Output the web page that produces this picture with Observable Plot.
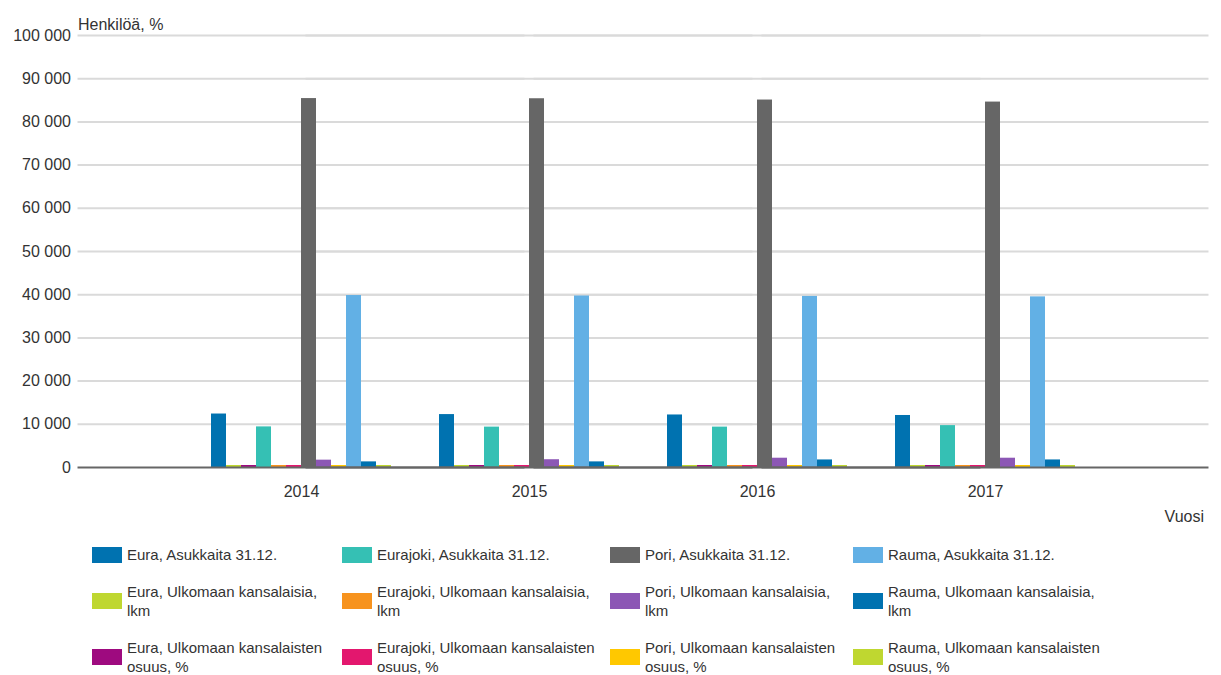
<!DOCTYPE html>
<html>
<head>
<meta charset="utf-8">
<script src="https://cdn.jsdelivr.net/npm/d3@7"></script>
<script src="https://cdn.jsdelivr.net/npm/@observablehq/plot@0.6"></script>
<style>
  html, body { margin: 0; padding: 0; background: #fff; }
  #wrap { position: relative; width: 1221px; height: 675px; font-family: "Liberation Sans", Arial, sans-serif; color: #333; }
  .item { position: absolute; display: flex; align-items: center; font-size: 15px; line-height: 19px; color: #333; white-space: nowrap; }
  .sw { width: 30px; height: 16px; margin-right: 5px; flex: none; }
</style>
</head>
<body>
<div id="wrap"></div>
<script>
const years = ["2014", "2015", "2016", "2017"];
const municipalities = ["Eura", "Eurajoki", "Pori", "Rauma"];
const measures = ["Asukkaita 31.12.", "Ulkomaan kansalaisia, lkm", "Ulkomaan kansalaisten osuus, %"];
const yTicks = [0, 10000, 20000, 30000, 40000, 50000, 60000, 70000, 80000, 90000, 100000];

// values per year 2014..2017
const euraAsukkaita      = [12380, 12250, 12160, 12040];
const euraUlkLkm         = [260, 250, 270, 280];
const euraUlkOsuus       = [2.1, 2.0, 2.2, 2.3];
const eurajokiAsukkaita  = [9400, 9350, 9350, 9700];
const eurajokiUlkLkm     = [180, 190, 200, 210];
const eurajokiUlkOsuus   = [1.9, 2.0, 2.1, 2.2];
const poriAsukkaita      = [85400, 85360, 85060, 84590];
const poriUlkLkm         = [1700, 1800, 2150, 2150];
const poriUlkOsuus       = [2.0, 2.1, 2.5, 2.5];
const raumaAsukkaita     = [39810, 39700, 39600, 39500];
const raumaUlkLkm        = [1300, 1300, 1750, 1750];
const raumaUlkOsuus      = [3.3, 3.3, 4.4, 4.4];

const seriesValues = [
  euraAsukkaita, euraUlkLkm, euraUlkOsuus,
  eurajokiAsukkaita, eurajokiUlkLkm, eurajokiUlkOsuus,
  poriAsukkaita, poriUlkLkm, poriUlkOsuus,
  raumaAsukkaita, raumaUlkLkm, raumaUlkOsuus
];
const colors = [
  "#0072b0", "#bfd730", "#9e0a7f",
  "#35c0b4", "#f7931e", "#e3176e",
  "#666666", "#8c57b5", "#ffc800",
  "#62b0e5", "#0072b0", "#bfd730"
];

const series = [];
municipalities.forEach(m => measures.forEach(me => series.push(`${m}, ${me}`)));

const table = [];
series.forEach((s, i) => years.forEach((y, j) => table.push({series: s, year: y, value: seriesValues[i][j]})));

const fmt = d3.formatLocale({decimal: ",", thousands: " ", grouping: [3], currency: ["", ""]}).format(",");

const W = 1221, ML = 77, MR = 11;
const padIn = 0.2, padOut = 0.58;
const step = (W - ML - MR) / (years.length - padIn + 2 * padOut);
const ext = padOut * step; // distance from frame edge to outer facet edge

const chart = Plot.plot({
  width: W,
  height: 540,
  marginLeft: ML,
  marginRight: MR,
  marginTop: 35,
  marginBottom: 73,
  style: {fontFamily: "'Liberation Sans', Arial, sans-serif", fontSize: "16px", color: "#333", background: "#fff"},
  fx: {domain: years, paddingInner: padIn, paddingOuter: padOut, label: null, tickSize: 0, tickPadding: 18},
  x: {domain: series, axis: null, paddingInner: 0, paddingOuter: 0},
  y: {domain: [0, 100000], axis: null},
  color: {domain: series, range: colors},
  marks: [
    Plot.ruleY(yTicks.filter(d => d > 0), {stroke: "#dadada", strokeWidth: 2, insetLeft: -ext, insetRight: -ext}),
    Plot.barY(table, {fx: "year", x: "series", y: "value", fill: "series"}),
    // thin minimum-visibility strip at the base of every bar
    Plot.barY(table, {fx: "year", x: "series", y1: 0, y2: 0, fill: "series", insetTop: -2}),
    Plot.ruleY([0], {stroke: "#666", strokeWidth: 2, insetLeft: -ext, insetRight: -ext}),
    Plot.text(yTicks, {facetAnchor: "left", y: d => d, text: d => fmt(d), frameAnchor: "left", dx: -7 - ext, textAnchor: "end", fill: "#333"}),
    Plot.text(["Henkilöä, %"], {facetAnchor: "left", frameAnchor: "top-left", dx: -ext, dy: -17, textAnchor: "start", fill: "#333"}),
    Plot.text(["Vuosi"], {facetAnchor: "right", frameAnchor: "bottom-right", dx: ext - 5, dy: 54, textAnchor: "end", fill: "#333"})
  ]
});

const wrap = document.getElementById("wrap");
wrap.appendChild(chart);

// legend: rows by measure, columns by municipality
const colX = [92, 342, 610, 853];
const rowY = [545, 582, 638];
measures.forEach((me, r) => {
  municipalities.forEach((m, c) => {
    const idx = c * 3 + r;
    const name = series[idx];
    const el = document.createElement("div");
    el.className = "item";
    el.style.left = colX[c] + "px";
    el.style.top = rowY[r] + "px";
    const sw = document.createElement("div");
    sw.className = "sw";
    sw.style.background = colors[idx];
    const tx = document.createElement("div");
    const p = name.indexOf("kansalais");
    if (p >= 0) {
      const k = name.indexOf(" ", p);
      tx.innerHTML = name.slice(0, k) + "<br>" + name.slice(k + 1);
    } else {
      tx.textContent = name;
    }
    el.appendChild(sw);
    el.appendChild(tx);
    wrap.appendChild(el);
  });
});
</script>
</body>
</html>
